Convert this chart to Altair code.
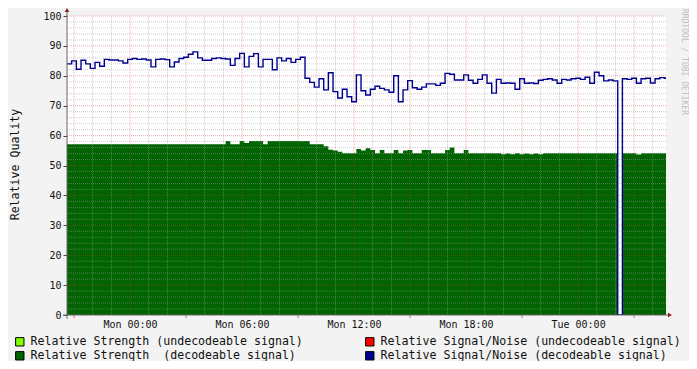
import altair as alt
import pandas as pd

# ---------------- data ----------------
start_hour = -3.375          # hours relative to Mon 00:00
step_hours = 0.25
x_domain = [-3.375, 28.71]

snr = [
    84.0, 85.0, 82.2, 85.2, 84.0, 82.5, 84.5, 83.2, 85.5, 85.3,
    85.3, 85.0, 84.3, 85.5, 85.8, 85.5, 85.6, 85.3, 83.0, 85.5,
    85.6, 85.4, 83.0, 84.6, 85.8, 86.2, 87.2, 88.0, 86.0, 85.2,
    85.2, 85.8, 86.0, 85.8, 85.6, 83.5, 85.8, 87.5, 83.0, 86.5,
    87.4, 83.0, 85.5, 85.5, 82.0, 86.0, 85.0, 85.8, 84.5, 85.5,
    86.2, 79.2, 77.8, 76.2, 79.0, 75.3, 81.0, 74.7, 72.6, 75.5,
    73.0, 71.3, 80.3, 75.0, 73.6, 75.5, 76.5, 75.8, 75.3, 74.5,
    80.0, 71.3, 75.3, 78.4, 76.0, 75.5, 76.2, 77.3, 77.3, 76.8,
    77.5, 80.8, 80.5, 78.6, 78.6, 80.3, 78.5, 77.5, 78.8, 80.3,
    77.5, 74.2, 78.8, 77.5, 77.6, 77.5, 75.5, 79.0, 77.5, 77.6,
    77.4, 78.5, 78.8, 79.0, 78.6, 77.5, 78.8, 78.6, 79.0, 79.2,
    78.8, 79.5, 77.5, 81.2, 80.0, 78.3, 78.6, 78.3, 0.0, 79.0,
    78.8, 79.2, 77.5, 79.0, 79.2, 77.6, 79.0, 79.4, 79.2,
]

strength = [
    57.1, 57.1, 57.1, 57.1, 57.1, 57.1, 57.1, 57.1, 57.1, 57.1,
    57.1, 57.1, 57.1, 57.1, 57.1, 57.1, 57.1, 57.1, 57.1, 57.1,
    57.1, 57.1, 57.1, 57.1, 57.1, 57.1, 57.1, 57.1, 57.1, 57.1,
    57.1, 57.1, 57.1, 57.1, 58.2, 57.1, 57.1, 58.2, 57.5, 58.2,
    58.2, 58.2, 57.1, 58.2, 58.2, 58.2, 58.2, 58.2, 58.2, 58.2,
    58.2, 58.2, 57.1, 57.1, 57.1, 56.4, 55.3, 55.0, 54.6, 54.1,
    54.1, 54.1, 55.5, 55.0, 55.8, 55.2, 54.1, 55.2, 54.1, 54.1,
    55.2, 54.1, 55.0, 55.2, 54.1, 54.1, 55.2, 55.2, 54.1, 54.1,
    54.1, 55.2, 56.0, 54.1, 54.1, 55.2, 54.1, 54.1, 54.1, 54.1,
    54.1, 54.1, 54.1, 53.8, 54.0, 53.8, 54.1, 53.8, 54.0, 53.8,
    54.0, 53.8, 54.1, 54.1, 54.1, 54.1, 54.1, 54.1, 54.1, 54.1,
    54.1, 54.1, 54.1, 54.1, 54.1, 54.1, 54.1, 54.1, 0.0, 54.1,
    54.1, 54.1, 53.7, 54.1, 54.1, 54.1, 54.1, 54.1, 54.1,
]

label_hours = [0, 6, 12, 18, 24]
label_texts = ["Mon 00:00", "Mon 06:00", "Mon 12:00", "Mon 18:00", "Tue 00:00"]
y_ticks = [0, 10, 20, 30, 40, 50, 60, 70, 80, 90, 100]
grid_hours_major = list(range(-3, 29, 3))
grid_hours_minor = [h for h in range(-3, 29) if h % 3 != 0]
grid_y_major = list(range(10, 101, 10))
grid_y_minor = [v for v in range(2, 100, 2) if v % 10 != 0]
tick_hours_red = [-3, 3, 9, 15, 21, 27]

# legend order: first column, then second column
series_names = [
    "Relative Strength (undecodeable signal)",
    "Relative Strength \u00a0(decodeable signal)",
    "Relative Signal/Noise (undecodeable signal)",
    "Relative Signal/Noise (decodeable signal)",
]
series_colors = ["#80FF00", "#006400", "#FF0000", "#000090"]

y_title = "Relative Quality"
watermark = "RRDTOOL / TOBI OETIKER"

FONT = "DejaVu Sans Mono"

# ---------------- tables ----------------
n = len(snr)
hours = [start_hour + step_hours * i for i in range(n + 1)]
df = pd.DataFrame({
    "hour": hours,
    "snr": snr + [snr[-1]],
    "strength": strength + [strength[-1]],
})

label_expr = "''"
for h, t in reversed(list(zip(label_hours, label_texts))):
    label_expr = f"datum.value == {h} ? '{t}' : {label_expr}"

xscale = alt.Scale(domain=x_domain, nice=False, zero=False)
yscale = alt.Scale(domain=[0, 100], nice=False, zero=True)

x_axis = alt.Axis(values=label_hours, labelExpr=label_expr, title=None,
                  grid=False, domain=False, ticks=False, labelPadding=4,
                  labelFont=FONT, labelFontSize=10, labelColor="#111",
                  labelFlush=False)
y_axis = alt.Axis(values=y_ticks, title=y_title, grid=False, domain=False,
                  tickSize=4, tickColor="#444", labelPadding=2,
                  labelFont=FONT, labelFontSize=10, labelColor="#111",
                  titleFont=FONT, titleFontSize=11.6, titleFontWeight="normal",
                  titleColor="#111", titleX=-52, titleY=148,
                  titleAngle=270, titleAlign="center", titleBaseline="middle")

X = alt.X("hour:Q", scale=xscale, axis=x_axis, title=None)

base = alt.Chart(df)

area = base.mark_area(interpolate="step-after", color="#006400", clip=True).encode(
    x=X,
    y=alt.Y("strength:Q", scale=yscale, axis=y_axis, title=y_title),
)

line = base.mark_line(interpolate="step-after", color="#000090", strokeWidth=1.4,
                      clip=True).encode(
    x=X,
    y=alt.Y("snr:Q", scale=yscale, axis=y_axis, title=y_title),
)

minor_col = "rgba(160,160,160,0.5)"
major_col = "rgba(210,60,60,0.42)"

v_minor = alt.Chart(pd.DataFrame({"hour": grid_hours_minor})).mark_rule(
    stroke=minor_col, strokeDash=[1, 1], strokeWidth=1).encode(x=X)
v_major = alt.Chart(pd.DataFrame({"hour": grid_hours_major})).mark_rule(
    stroke=major_col, strokeDash=[1, 1], strokeWidth=1).encode(x=X)
h_minor = alt.Chart(pd.DataFrame({"v": grid_y_minor})).mark_rule(
    stroke=minor_col, strokeDash=[1, 1], strokeWidth=1).encode(
    y=alt.Y("v:Q", scale=yscale, axis=y_axis, title=y_title))
h_major = alt.Chart(pd.DataFrame({"v": grid_y_major})).mark_rule(
    stroke=major_col, strokeDash=[1, 1], strokeWidth=1).encode(
    y=alt.Y("v:Q", scale=yscale, axis=y_axis, title=y_title))

red_ticks = alt.Chart(pd.DataFrame({"hour": tick_hours_red})).mark_rule(
    stroke="#D07070", strokeWidth=1).encode(
    x=X, y=alt.value(299), y2=alt.value(302))

one = pd.DataFrame({"k": [0]})
y_axis_line = alt.Chart(one).mark_rule(color="#666", strokeWidth=1).encode(
    x=alt.value(0), y=alt.value(-4), y2=alt.value(303))
x_axis_line = alt.Chart(one).mark_rule(color="#666", strokeWidth=1).encode(
    x=alt.value(-4), x2=alt.value(602), y=alt.value(299))
arrow_up = alt.Chart(one).mark_point(shape="triangle-up", filled=True,
                                     color="#8B2020", size=22, opacity=1).encode(
    x=alt.value(0), y=alt.value(-6))
arrow_right = alt.Chart(one).mark_point(shape="triangle-right", filled=True,
                                        color="#8B2020", size=22, opacity=1).encode(
    x=alt.value(603), y=alt.value(299))

wm = alt.Chart(one).mark_text(text=watermark, angle=90, align="left",
                              baseline="middle", font=FONT, fontSize=8,
                              color="#BDBDBD").encode(
    x=alt.value(617), y=alt.value(-7))

legend_layer = alt.Chart(pd.DataFrame({"series": series_names})).mark_square(
    opacity=0).encode(
    x=alt.value(0), y=alt.value(0),
    color=alt.Color("series:N",
                    scale=alt.Scale(domain=series_names, range=series_colors),
                    sort=series_names,
                    legend=alt.Legend(orient="none", legendX=-53, legendY=320,
                                      columns=2, title=None, symbolType="square",
                                      symbolSize=70, symbolStrokeColor="black",
                                      symbolStrokeWidth=1, symbolOpacity=1,
                                      labelFont=FONT, labelFontSize=11.6,
                                      labelColor="#111", labelOffset=5,
                                      labelLimit=500, columnPadding=60,
                                      rowPadding=1, padding=0)),
)

chart = alt.layer(
    area, v_minor, h_minor, v_major, h_major, line,
    red_ticks, y_axis_line, x_axis_line, arrow_up, arrow_right, wm, legend_layer,
).properties(
    width=599, height=299,
    padding={"left": 59, "top": 8, "right": 23, "bottom": 46},
    autosize=alt.AutoSizeParams(type="none"),
    background="#F3F3F3",
).configure_view(fill="white", stroke=None)

chart.save("out.html", embed_options={"renderer": "svg", "actions": False})
